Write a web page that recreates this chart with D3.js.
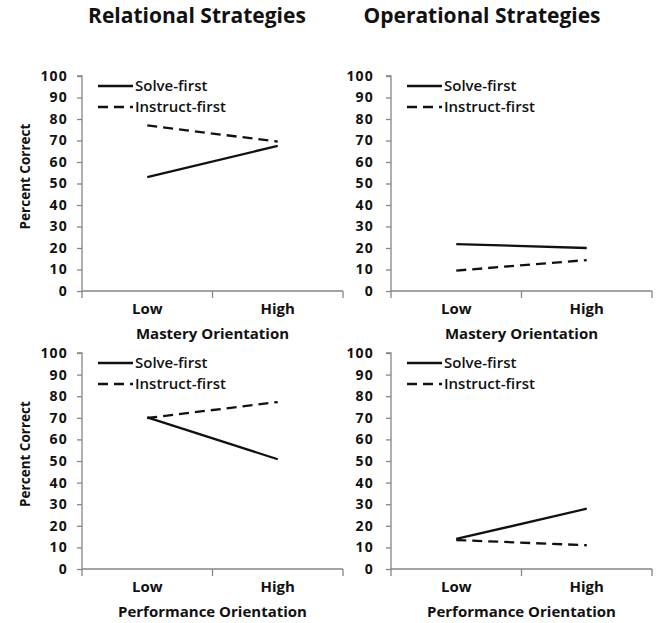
<!DOCTYPE html>
<html><head><meta charset="utf-8">
<script src="https://cdn.jsdelivr.net/npm/d3@7"></script>
<style>body{margin:0;background:#fff}svg{display:block}text{font-family:"Open Sans",sans-serif;fill:#111}</style>
</head><body>
<script>
const categories = ["Low", "High"];
const seriesNames = ["Solve-first", "Instruct-first"];
const yTicks = [0,10,20,30,40,50,60,70,80,90,100];
const columnTitles = ["Relational Strategies", "Operational Strategies"];
const xTitles = ["Mastery Orientation", "Performance Orientation"];
// values per panel: [Solve-first], [Instruct-first]
const relMasterySolve = [53, 67.5];
const relMasteryInstruct = [77, 69.5];
const opMasterySolve = [21.8, 20];
const opMasteryInstruct = [9.5, 14.4];
const relPerfSolve = [70.2, 50.8];
const relPerfInstruct = [69.9, 77.3];
const opPerfSolve = [13.9, 27.9];
const opPerfInstruct = [13.4, 11];

const W = 656, H = 623;
const svg = d3.select("body").append("svg").attr("width", W).attr("height", H);

const panels = [
  {x0:82, yTop:76, yBot:291, solve:relMasterySolve, instr:relMasteryInstruct, xt:xTitles[0], ylab:true, lblGap:14},
  {x0:391, yTop:76, yBot:291, solve:opMasterySolve, instr:opMasteryInstruct, xt:xTitles[0], ylab:false, lblGap:17},
  {x0:82, yTop:353, yBot:569, solve:relPerfSolve, instr:relPerfInstruct, xt:xTitles[1], ylab:true, lblGap:14},
  {x0:391, yTop:353, yBot:569, solve:opPerfSolve, instr:opPerfInstruct, xt:xTitles[1], ylab:false, lblGap:17}
];
const axisW = 261;
const axisColor = "#868686";

svg.append("text").attr("x", 197).attr("y", 23).attr("text-anchor","middle")
  .style("font-size","21px").style("font-weight","bold").text(columnTitles[0]);
svg.append("text").attr("x", 482).attr("y", 23).attr("text-anchor","middle")
  .style("font-size","21px").style("font-weight","bold").text(columnTitles[1]);

panels.forEach(p => {
  const g = svg.append("g");
  const y = d3.scaleLinear().domain([0,100]).range([p.yBot, p.yTop]);
  const x = d3.scaleBand().domain(categories).range([p.x0, p.x0 + axisW]);
  const cx = d => x(d) + x.bandwidth()/2;

  // y axis
  const ya = g.append("g").attr("transform", `translate(${p.x0},0)`)
    .call(d3.axisLeft(y).tickValues(yTicks).tickSize(5).tickPadding(p.lblGap - 5));
  ya.select(".domain").attr("stroke", axisColor).attr("stroke-width",1.3)
    .attr("d", `M-5,${p.yTop}H0V${p.yBot + 7}`);
  ya.selectAll(".tick line").attr("stroke", axisColor).attr("stroke-width",1.3);
  ya.selectAll(".tick text").style("font-family","'Open Sans',sans-serif").style("font-size","14px")
    .style("font-weight","bold").style("letter-spacing","1.2px").attr("fill","#111");

  // x axis
  const xa = g.append("g").attr("transform", `translate(0,${p.yBot})`)
    .call(d3.axisBottom(x).tickSize(0).tickPadding(12));
  xa.select(".domain").attr("stroke", axisColor).attr("stroke-width",1.3)
    .attr("d", `M${p.x0},0H${p.x0 + axisW}`);
  xa.selectAll(".tick text").style("font-family","'Open Sans',sans-serif").style("font-size","15px")
    .style("font-weight","bold").attr("fill","#111");
  // boundary ticks
  g.selectAll(".bt").data([x.range()[0] + x.step(), x.range()[1]]).enter().append("line")
    .attr("x1", d => d).attr("x2", d => d).attr("y1", p.yBot).attr("y2", p.yBot + 7)
    .attr("stroke", axisColor).attr("stroke-width",1.3);

  // x title
  g.append("text").attr("x", p.x0 + axisW/2).attr("y", p.yBot + 48).attr("text-anchor","middle")
    .style("font-size","15px").style("font-weight","bold").text(p.xt);

  if (p.ylab) {
    g.append("text").attr("transform", `translate(30,${(p.yTop+p.yBot)/2 - 7}) rotate(-90)`)
      .attr("text-anchor","middle").style("font-size","13.5px").style("font-weight","bold").text("Percent Correct");
  }

  const line = d3.line().x((d,i) => cx(categories[i])).y(d => y(d));
  g.append("path").datum(p.solve).attr("d", line).attr("fill","none")
    .attr("stroke","#111").attr("stroke-width",2.3);
  g.append("path").datum(p.instr).attr("d", line).attr("fill","none")
    .attr("stroke","#111").attr("stroke-width",2.3).attr("stroke-dasharray","10,6");

  // legend
  const lx = p.x0 + 16, ly = p.yTop + 10;
  seriesNames.forEach((s,i) => {
    const yy = ly + i*21;
    g.append("line").attr("x1", lx).attr("x2", lx + 35).attr("y1", yy).attr("y2", yy)
      .attr("stroke","#111").attr("stroke-width",2.3).attr("stroke-dasharray", i ? "10,6" : null);
    g.append("text").attr("x", lx + 37).attr("y", yy).attr("dy","0.35em")
      .style("font-size","15px").style("font-weight","600").text(s);
  });
});
</script>
</body></html>
